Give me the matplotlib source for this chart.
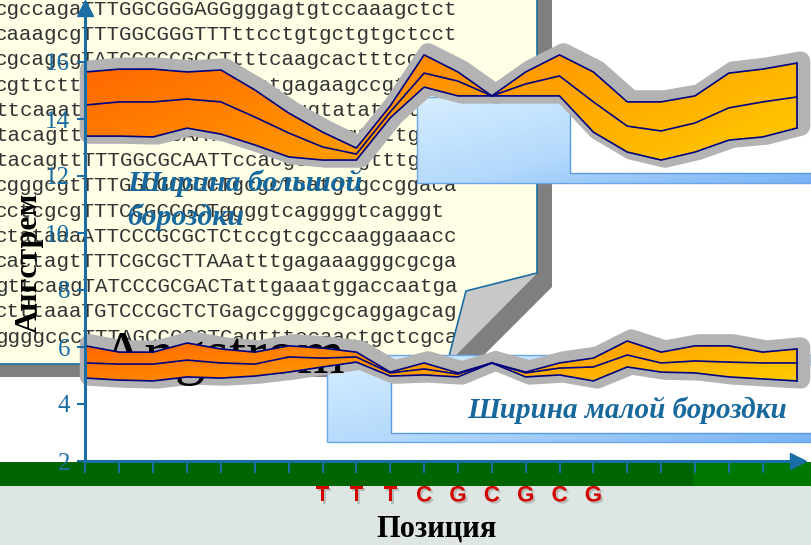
import numpy as np
import matplotlib.pyplot as plt
import matplotlib.patheffects as pe
from matplotlib.patches import Polygon, Rectangle
from matplotlib.colors import LinearSegmentedColormap
from matplotlib.transforms import offset_copy

# ---- data ----
positions = list(range(22))

major_top = [15.65, 15.75, 15.75, 15.65, 15.72, 15.02, 14.21, 13.54, 12.98, 14.46, 16.25,
             15.65, 14.81, 15.65, 16.25, 15.65, 14.60, 14.60, 14.81, 15.61, 15.75, 15.96]
major_mid = [14.49, 14.60, 14.60, 14.70, 14.60, 14.07, 13.51, 13.02, 12.77, 14.25, 15.61,
             15.33, 14.81, 15.23, 15.51, 14.60, 13.75, 13.58, 13.86, 14.39, 14.60, 14.77]
major_bot = [13.40, 13.40, 13.37, 13.68, 13.47, 13.09, 12.67, 12.56, 12.56, 14.04, 15.12,
             14.81, 14.81, 14.81, 14.81, 13.54, 12.84, 12.56, 12.84, 13.26, 13.37, 13.68]

minor_top = [6.04, 5.82, 5.82, 6.14, 5.93, 5.82, 6.04, 5.96, 5.82, 5.12, 5.44,
             5.09, 5.44, 5.12, 5.44, 5.61, 6.21, 5.82, 6.04, 6.04, 5.82, 5.93]
minor_mid = [5.44, 5.40, 5.40, 5.54, 5.44, 5.40, 5.65, 5.61, 5.65, 5.09, 5.23,
             5.05, 5.44, 5.09, 5.26, 5.30, 5.72, 5.44, 5.51, 5.47, 5.44, 5.44]
minor_bot = [4.91, 4.84, 4.81, 4.95, 4.91, 4.98, 5.12, 5.30, 5.47, 4.98, 5.02,
             4.95, 5.44, 4.95, 5.02, 4.81, 5.30, 5.12, 5.09, 4.95, 4.88, 4.81]

y_ticks = [2, 4, 6, 8, 10, 12, 14, 16]
x_ticks = list(range(21))
letter_pos = [7, 8, 9, 10, 11, 12, 13, 14, 15]
letters = ["T", "T", "T", "C", "G", "C", "G", "C", "G"]

dna_rows = [
    "cgccagaTTTGGCGGGAGGgggagtgtccaaagctct",
    "caaagcgTTTGGCGGGTTTttcctgtgctgtgctcct",
    "cgcagcgTATCCCCCGCCTtttcaagcactttcctgc",
    "cgttcttTTTGCGCGCTTTttctgagaagccgtgca",
    "ttcaaatTTTGGCGCGAAAttcaaggtatattttgag",
    "tacagttTTTGGCGCAATTccacgcgatgttttgcag",
    "tacagttTTTGGCGCAATTccacgcaatcgtttgcag",
    "cgggcgtTTTGGCGCGGCTgcgctcatgtgccggaca",
    "cctcgcgTTTCCGCCGCTggggtcaggggtcagggt",
    "ctataaaATTCCCGCGCTCtccgtcgccaaggaaacc",
    "cactagtTTTCGCGCTTAAatttgagaaagggcgcga",
    "gttcaagTATCCCGCGACTattgaaatggaccaatga",
    "ctttaaaTGTCCCGCTCTGagccgggcgcaggagcag",
    "ggggcccTTTAGCCCGCTCagtttccaactgctcgca",
]

AXIS_BLUE = "#1b6ea3"
TITLE_BLUE = "#17689c"
NAVY = "#000080"
GRAY = "#b3b3b3"

band_cmap = LinearSegmentedColormap.from_list("band", ["#ff6400", "#ff9a00", "#ffcc00"])
box_cmap = LinearSegmentedColormap.from_list("box", ["#d6eeff", "#b4d9fc", "#78b2f4"])

fig = plt.figure(figsize=(8.12, 5.45), dpi=100)

# background layer in pixel coordinates
bg = fig.add_axes([0, 0, 1, 1])
bg.set_xlim(0, 812)
bg.set_ylim(545, 0)
bg.axis("off")

bg.add_patch(Rectangle((0, 486), 812, 60, fc="#dde6e2", ec="none", zorder=0))
bg.add_patch(Rectangle((0, 462), 812, 24, fc="#007800", ec="none", zorder=0.5))
bg.add_patch(Rectangle((0, 462), 693, 24, fc="#006400", ec="none", zorder=0.6))

# yellow callout panel with folded corner
bg.add_patch(Polygon([(-5, -5), (552, -5), (552, 287), (462, 377), (-5, 377)],
                     fc="#7f7f7f", ec="none", zorder=1))
bg.add_patch(Polygon([(-5, -5), (537, -5), (537, 273), (447, 364), (-5, 364)],
                     fc="#ffffe6", ec="none", zorder=1.1))
bg.plot([537, 537], [-5, 273], color=AXIS_BLUE, lw=1.2, zorder=1.2)
bg.plot([-5, 447], [364, 364], color=AXIS_BLUE, lw=1.2, zorder=1.2)

for i, row in enumerate(dna_rows):
    bg.text(-5, 15 + 25.2 * i, row, family="Liberation Mono", fontsize=15,
            color="#333333", ha="left", va="baseline", zorder=1.5)

bg.add_patch(Polygon([(537, 273), (466, 291), (447, 364)], fc="#c8c8c8", ec="none", zorder=1.6))
bg.plot([537, 466, 447], [273, 291, 364], color=AXIS_BLUE, lw=1.2, zorder=1.7)


def grad_box(x0, y0, x1, y1, z):
    gx, gy = np.meshgrid(np.linspace(0, 1, 200), np.linspace(0, 1, 60))
    bg.imshow(0.55 * gx + 0.45 * gy, cmap=box_cmap, extent=[x0, x1, y1, y0],
              origin="upper", aspect="auto", zorder=z)
    bg.add_patch(Rectangle((x0, y0), x1 - x0, y1 - y0, fill=False, ec="#6aa6e8", lw=1, zorder=z + 0.1))


grad_box(417, 97, 815, 183, 2)
bg.add_patch(Rectangle((570, 80), 245, 93, fc="white", ec="none", zorder=2.2))
bg.plot([570, 570, 815], [100, 173, 173], color="#5a9be0", lw=1, zorder=2.3)

grad_box(327, 355, 815, 442, 2)
bg.add_patch(Rectangle((391, 366), 424, 67, fc="white", ec="none", zorder=2.2))
bg.plot([391, 391, 815], [366, 433, 433], color="#5a9be0", lw=1, zorder=2.3)
bg.set_xlim(0, 812)
bg.set_ylim(545, 0)

bg.text(127, 183, "Ширина большой", family="Liberation Serif", fontsize=21.5, fontweight="bold",
        style="italic", color=TITLE_BLUE, ha="left", va="center", zorder=3)
bg.text(127, 217, "бороздки", family="Liberation Serif", fontsize=21.5, fontweight="bold",
        style="italic", color=TITLE_BLUE, ha="left", va="center", zorder=3)
bg.text(467, 410, "Ширина малой бороздки", family="Liberation Serif", fontsize=21, fontweight="bold",
        style="italic", color=TITLE_BLUE, ha="left", va="center", zorder=3)

# data axes
X0, X1, Y0, Y1 = 85.5, 798, 461, 8
ax = fig.add_axes([X0 / 812, (545 - Y0) / 545, (X1 - X0) / 812, (Y0 - Y1) / 545])
ax.set_zorder(1)
ax.patch.set_visible(False)
XMAX = (X1 - X0) / 33.86
YMAX = 2 + (Y0 - Y1) / 28.5

# big word sits between the grey halo and the orange fill of the bands
ax.text(100, 373, "Angstrom", family="Liberation Serif", fontsize=44, color="black",
        ha="left", va="baseline", transform=bg.transData, zorder=1.1, clip_on=False)


def band(top, mid, bot):
    x = np.array(positions, dtype=float)
    top, mid, bot = np.array(top), np.array(mid), np.array(bot)
    verts = np.column_stack([np.r_[x, x[::-1]], np.r_[top, bot[::-1]]])
    shift = offset_copy(ax.transData, fig=fig, x=4, y=2, units="dots")
    ax.add_patch(Polygon(verts, closed=True, fc=GRAY, ec=GRAY, lw=14, joinstyle="round",
                         transform=shift, zorder=1, clip_on=False))
    clip = Polygon(verts, closed=True, fc="none", ec="none", transform=ax.transData)
    ax.add_patch(clip)
    gx, gy = np.meshgrid(np.linspace(0, 1, 300), np.linspace(0, 1, 80))
    im = ax.imshow(0.75 * gx + 0.25 * gy, cmap=band_cmap, origin="upper", aspect="auto",
                   extent=[x[0], x[-1], bot.min(), top.max()], zorder=1.2)
    im.set_clip_path(clip)
    for ys in (top, mid, bot):
        ax.plot(x, ys, color=NAVY, lw=1.2, zorder=1.5, clip_on=False)
    ax.plot([x[-1], x[-1]], [bot[-1], top[-1]], color=NAVY, lw=1.2, zorder=1.5, clip_on=False)


band(major_top, major_mid, major_bot)
band(minor_top, minor_mid, minor_bot)

ax.set_xlim(0, XMAX)
ax.set_ylim(2, YMAX)

for s in ["top", "right"]:
    ax.spines[s].set_visible(False)
for s in ["left", "bottom"]:
    ax.spines[s].set_color(AXIS_BLUE)
    ax.spines[s].set_linewidth(2.2)
    ax.spines[s].set_zorder(3)

ax.plot([0], [1], marker="^", ms=12, color=AXIS_BLUE, transform=ax.transAxes, clip_on=False, zorder=4)
ax.plot([1], [0], marker=">", ms=12, color=AXIS_BLUE, transform=ax.transAxes, clip_on=False, zorder=4)

ax.set_yticks(y_ticks)
ax.tick_params(axis="y", direction="out", length=6, width=1.5, color=AXIS_BLUE,
               labelcolor=AXIS_BLUE, labelsize=18, pad=5)
for t in ax.get_yticklabels():
    t.set_family("Liberation Serif")

xlabels = [""] * len(x_ticks)
for p, l in zip(letter_pos, letters):
    xlabels[p] = l
ax.set_xticks(x_ticks)
ax.set_xticklabels(xlabels)
ax.tick_params(axis="x", direction="out", length=8.6, width=1.5, color=AXIS_BLUE,
               labelcolor="#d40000", labelsize=16, pad=9)
for t in ax.get_xticklabels():
    t.set_family("Liberation Sans")
    t.set_fontweight("bold")
    t.set_path_effects([pe.SimplePatchShadow(offset=(1.5, -1.5), shadow_rgbFace="gray", alpha=0.4),
                        pe.Normal()])

ax.set_ylabel("Ангстрем", family="Liberation Serif", fontsize=23, fontweight="bold", color="black")
ax.yaxis.set_label_coords(-0.058, 0.437)
ax.set_xlabel("Позиция", family="Liberation Serif", fontsize=22, fontweight="bold", color="black")
ax.xaxis.set_label_coords(0.493, -0.119)

fig.savefig("out.png", dpi=100)
